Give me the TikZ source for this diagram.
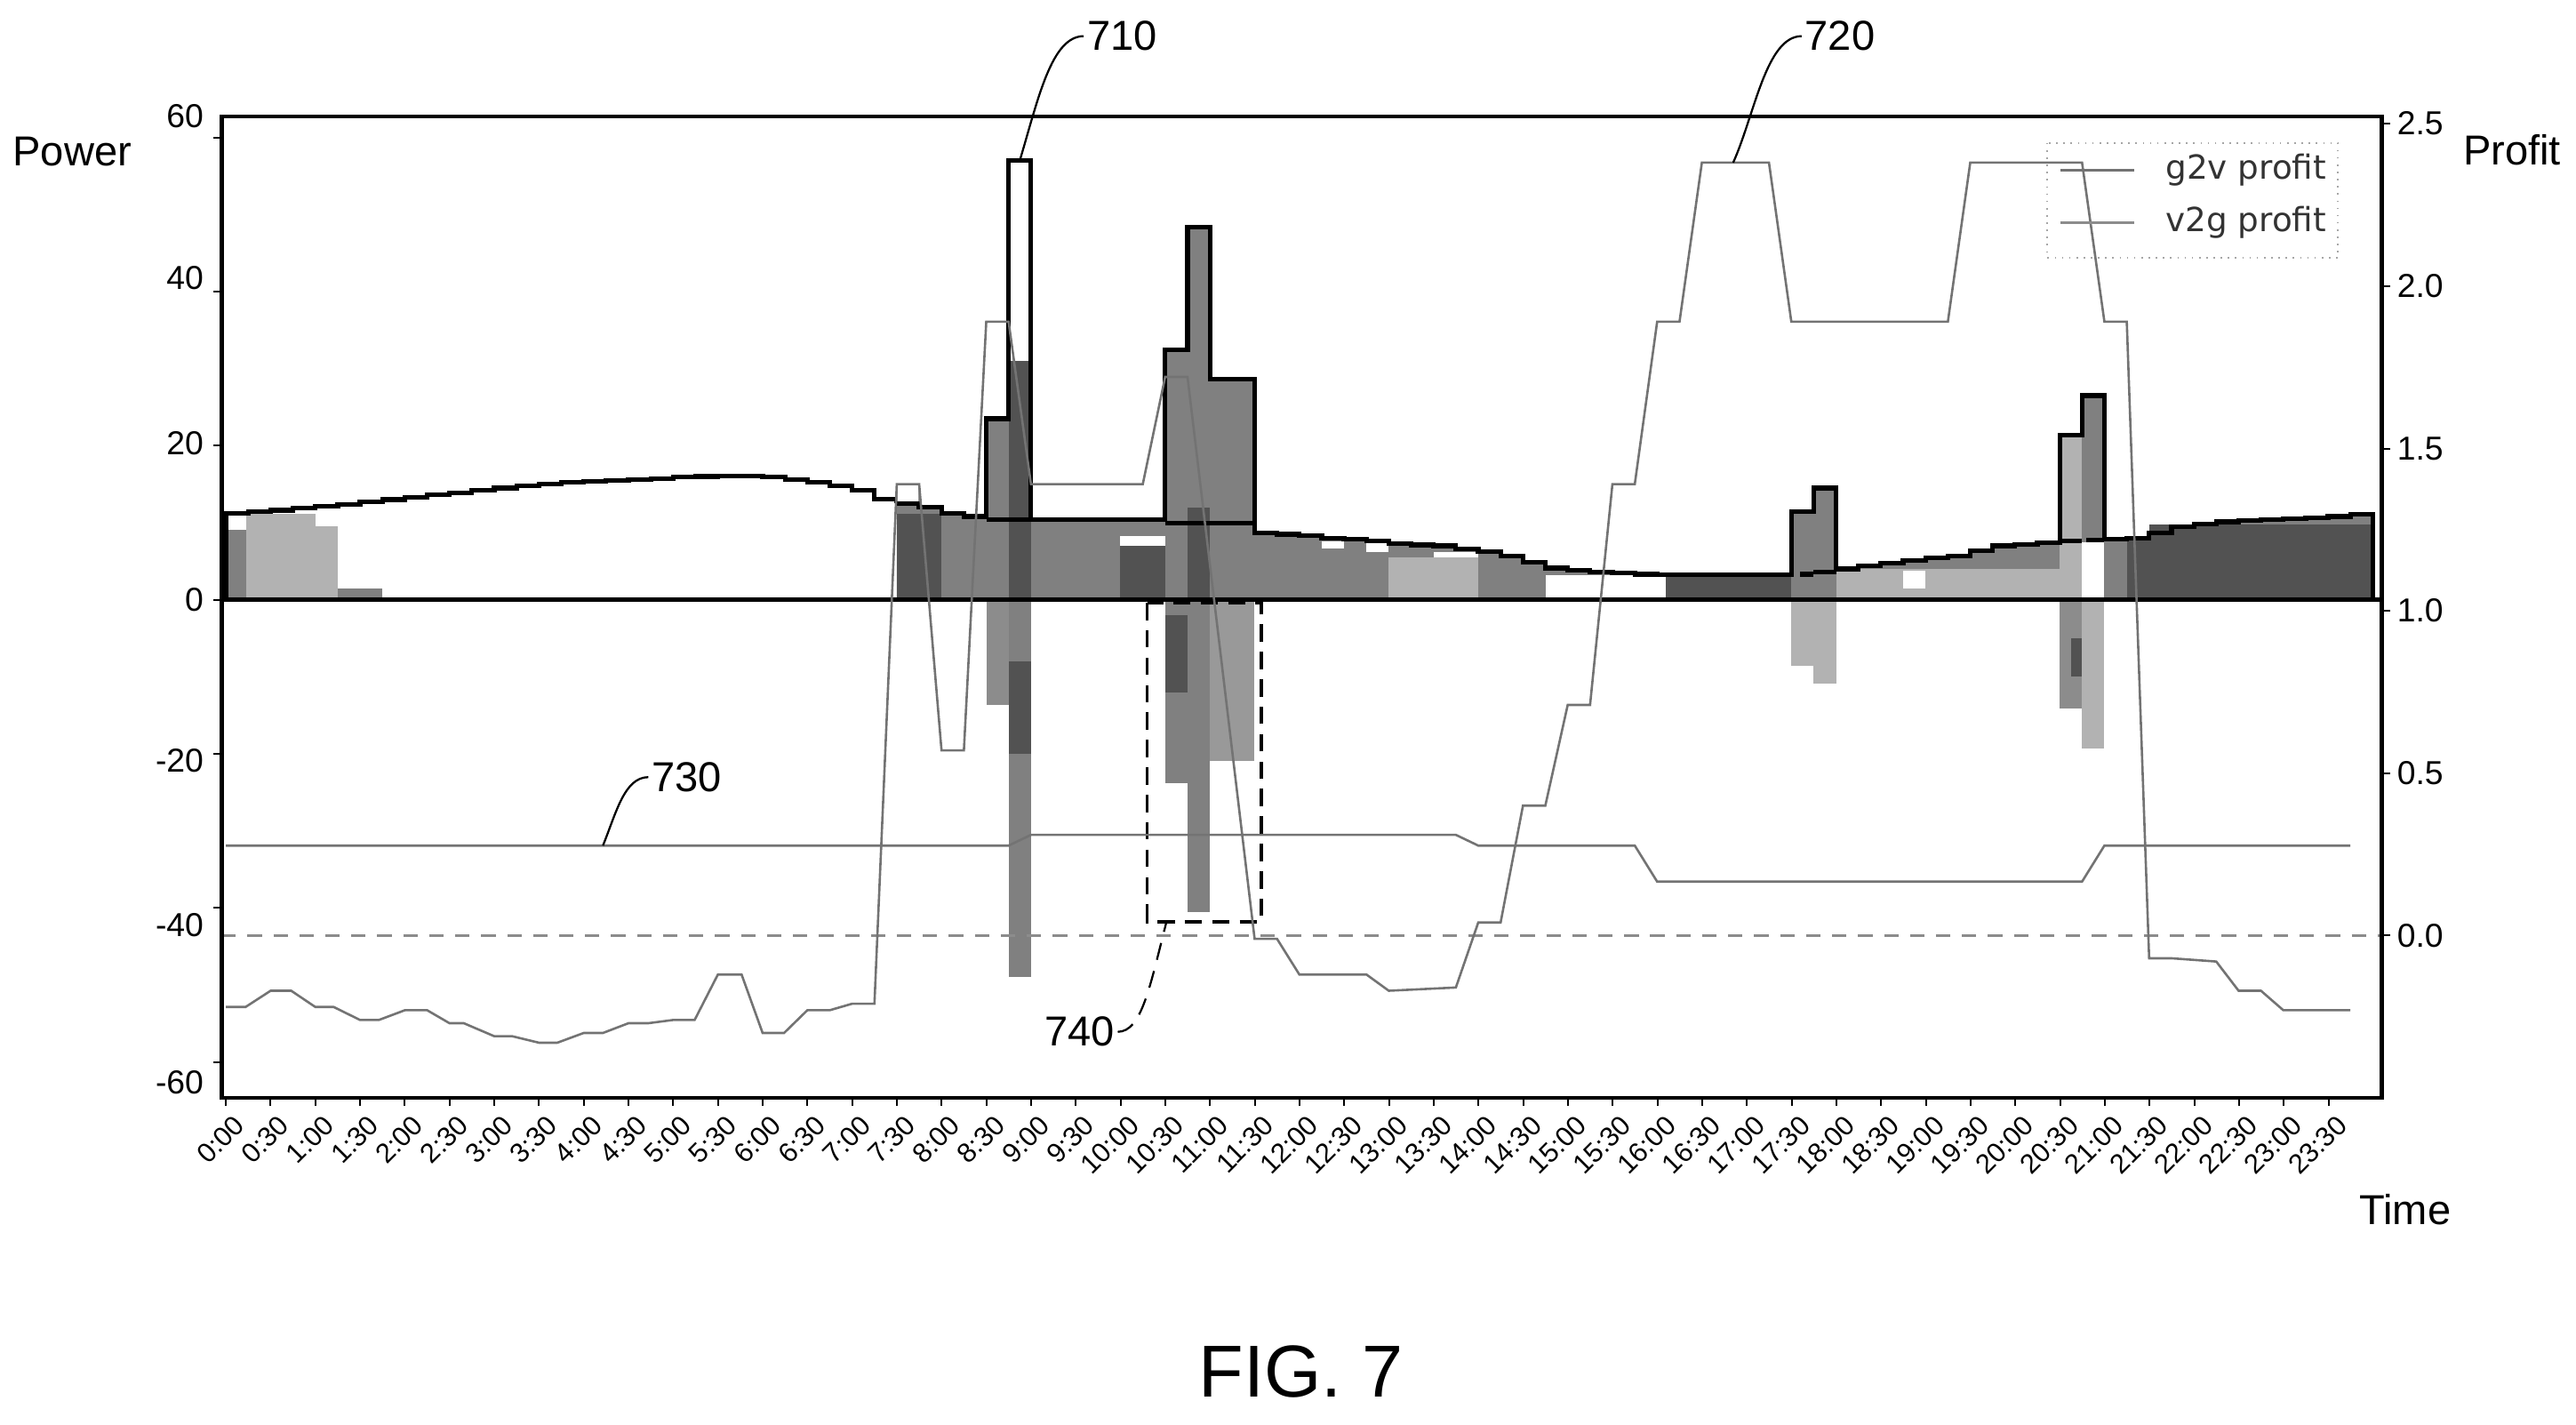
\documentclass[tikz,border=0pt]{standalone}
\usepackage{fontspec}
\setmainfont{Liberation Sans}
\newfontfamily\legendfont{DejaVu Sans}
\colorlet{barlight}{black!30}
\colorlet{barmid}{black!50}
\colorlet{bardark}{black!68}
\colorlet{profitgray}{black!55}

\tikzset{
  envelope/.style={draw=black, line width=1.6pt, line join=miter},
  profitline/.style={draw=profitgray, line width=0.8pt},
  zeroprofit/.style={draw=black!45, line width=0.8pt, dash pattern=on 5pt off 4pt},
  callout/.style={draw=black, line width=0.7pt},
  numlabel/.style={font=\fontsize{11.5}{13}\selectfont, inner sep=1pt},
  timelabel/.style={font=\fontsize{9.5}{11}\selectfont, rotate=45, anchor=north east, inner sep=1pt},
  reflabel/.style={font=\fontsize{14.5}{17}\selectfont, inner sep=1pt},
}

\begin{document}
\begin{tikzpicture}[x=0.02cm, y=-0.02cm]
\useasboundingbox (0,0) rectangle (1568,867);

% power bars, left axis
\begin{scope}[shift={(137.5,365)}, x=0.5446cm, y=0.0938cm]
  % early morning bars
  \fill[barmid] (0,0) rectangle (0.45,9.1);
  \fill[barlight] (0.45,0) rectangle (2,11.2);
  \fill[barlight] (2,0) rectangle (2.5,9.5);
  \fill[barmid] (2.5,0) rectangle (3.5,1.5);
  \draw[envelope] plot[const plot] coordinates {(0,0) (0,11.2) (0.5,11.4) (1,11.6) (1.5,11.9) (2,12.1) (2.5,12.4) (3,12.7) (3.5,13.0) (4,13.3) (4.5,13.6) (5,13.9) (5.5,14.2) (6,14.5) (6.5,14.8) (7,15.0) (7.5,15.2) (8,15.4) (8.5,15.5) (9,15.6) (9.5,15.7) (10,15.9) (10.5,16.0) (11,16.1) (11.5,16.1) (12,15.9) (12.5,15.6) (13,15.2) (13.5,14.8) (14,14.2) (14.5,13.1) (15,12.5)};

  % day bars
  \path[save path=\loadpath] plot[const plot] coordinates {(15,12.5) (15.5,12.0) (16,11.2) (16.5,10.8) (17,23.5) (17.5,57) (18,10.4) (21,32.4) (21.5,48.4) (22,28.6) (23,8.7) (23.5,8.5) (24,8.3) (24.5,8.0) (25,7.9) (25.5,7.6) (26,7.3) (26.5,7.1) (27,7.0) (27.5,6.6) (28,6.2) (28.5,5.7) (29,4.9) (29.5,4.1) (30,3.8) (30.5,3.6) (31,3.5) (31.5,3.3) (32,3.2) (35,11.4) (35.5,14.5) (36,4.0) (36.5,4.4) (37,4.7) (37.5,5.1) (38,5.4) (38.5,5.7) (39,6.4) (39.5,7.0) (40,7.2) (40.5,7.4) (41,21.4) (41.5,26.5) (42,7.9) (42.5,8.0) (43,8.7) (43.5,9.5) (44,9.8) (44.5,10.1) (45,10.3) (45.5,10.4) (46,10.5) (46.5,10.6) (47,10.8) (47.5,11.1) (48,11.1)} -- (48,0) -- (15,0);
  \fill[barmid, use path=\loadpath];
  \fill[bardark] (15,0) rectangle (16,11.2);
  \fill[bardark] (17.5,0) rectangle (18,31);
  \fill[white] (17.5,31) rectangle (18,57);
  \fill[bardark] (20,0) rectangle (21,7);
  \fill[white] (20,7) rectangle (21,8.3);
  \fill[bardark] (21.5,0) rectangle (22,12);
  \fill[white] (24.5,6.6) rectangle (25,7.6);
  \fill[white] (25.5,6.2) rectangle (26,7.3);
  \fill[barlight] (26,0) rectangle (28,5.5);
  \fill[white] (27,5.5) rectangle (28,6.2);
  \fill[white] (29.5,0) rectangle (32.2,3.2);
  \fill[bardark] (32.2,0) rectangle (35,3.2);
  \fill[barlight] (36,0) rectangle (41,4);
  \fill[white] (37.5,1.5) rectangle (38,3.8);
  \fill[barlight] (41,0) rectangle (41.5,21.4);
  \fill[white] (41.5,0) rectangle (42,7.5);
  \fill[bardark] (42.5,0) rectangle (43,8);
  \fill[bardark] (43,0) rectangle (48,9.8);
  \fill[white, draw=black!40] (15,12.5) rectangle (15.5,15);
  \draw[envelope, use path=\loadpath];
  \draw[envelope] (17,10.4) -- (18,10.4);
  \draw[envelope] (21,9.9) -- (23,9.9);
  \draw[envelope] (35.2,3.3) -- (35.5,3.3) (35.5,3.6) -- (36,3.6);
  \draw[envelope] (41,7.6) -- (41.5,7.6) (41.6,7.7) -- (42,7.7);
  \coordinate (c710) at (17.75,57);

  % grid to vehicle bars below zero
  \fill[black!45] (17,0) rectangle (17.5,-13.7);
  \fill[barmid] (17.5,0) rectangle (18,-49);
  \fill[bardark] (17.5,-8) rectangle (18,-20);
  \fill[barmid] (21,0) rectangle (21.5,-23.8);
  \fill[bardark] (21,-2) rectangle (21.5,-12);
  \fill[barmid] (21.5,0) rectangle (22,-40.5);
  \fill[black!40] (22,0) rectangle (23,-20.9);
  \fill[barlight] (35,0) rectangle (35.5,-8.6);
  \fill[barlight] (35.5,0) rectangle (36,-10.9);
  \fill[black!45] (41,0) rectangle (41.5,-14.1);
  \fill[barlight] (41.5,0) rectangle (42,-19.3);
  \fill[bardark] (41.25,-5) rectangle (41.5,-10);

  \draw[line width=1.4pt] (-0.1,0) -- (48.2,0);
  \draw[line width=1.1pt, dash pattern=on 6pt off 3.5pt] (20.6,-0.4) rectangle (23.15,-41.8);
  \coordinate (c740) at (21.03,-41.8);
\end{scope}

% profit lines, right axis
\begin{scope}[shift={(137.5,569.4)}, x=0.5446cm, y=3.954cm]
  \draw[zeroprofit] (-0.1,0) -- (48.2,0);
  \draw[profitline] (0,0.277) -- (17.5,0.277) -- (18,0.31) -- (27.5,0.31) -- (28,0.277) -- (31.5,0.277) -- (32,0.166) -- (41.5,0.166) -- (42,0.277) -- (47.5,0.277);
  \draw[profitline] (0,-0.22) -- (0.44,-0.22) -- (1,-0.17) -- (1.46,-0.17) -- (2,-0.22) -- (2.41,-0.22) -- (3,-0.26) -- (3.42,-0.26) -- (4,-0.23) -- (4.5,-0.23) -- (5,-0.27) -- (5.32,-0.27) -- (6,-0.31) -- (6.4,-0.31) -- (7,-0.33) -- (7.41,-0.33) -- (8,-0.30) -- (8.43,-0.30) -- (9,-0.27) -- (9.44,-0.27) -- (10,-0.26) -- (10.48,-0.26) -- (11,-0.12) -- (11.53,-0.12) -- (12,-0.30) -- (12.48,-0.30) -- (13,-0.23) -- (13.5,-0.23) -- (14,-0.21) -- (14.5,-0.21) -- (15,1.39) -- (15.5,1.39) -- (16,0.57) -- (16.5,0.57) -- (17,1.89) -- (17.5,1.89) -- (18,1.39) -- (20.5,1.39) -- (21,1.72) -- (21.5,1.72) -- (23,-0.01) -- (23.5,-0.01) -- (24,-0.12) -- (25.5,-0.12) -- (26,-0.17) -- (27.5,-0.16) -- (28,0.04) -- (28.5,0.04) -- (29,0.40) -- (29.5,0.40) -- (30,0.71) -- (30.5,0.71) -- (31,1.39) -- (31.5,1.39) -- (32,1.89) -- (32.5,1.89) -- (33,2.38) -- (34.5,2.38) -- (35,1.89) -- (38.5,1.89) -- (39,2.38) -- (41.5,2.38) -- (42,1.89) -- (42.5,1.89) -- (43,-0.07) -- (43.5,-0.07) -- (44.5,-0.08) -- (45,-0.17) -- (45.5,-0.17) -- (46,-0.23) -- (47.5,-0.23);
  \coordinate (c720) at (33.7,2.38);
  \coordinate (c730) at (8.43,0.277);
\end{scope}

% frame and ticks
\draw[line width=1.3pt] (135,70.8) rectangle (1449.8,668);
\foreach \v/\y in {60/83.6,40/177.4,20/271.2,0/365,-20/458.8,-40/552.6,-60/646.4}
  \draw[line width=0.6pt] (130,\y) -- (135,\y);
\foreach \v/\y/\ly in {60/83.6/70.8,40/177.4/169,20/271.2/270,0/365/365,-20/458.8/463,-40/552.6/563,-60/646.4/659}
  \node[numlabel, anchor=east] (p\v) at (126,\ly) {\v};
\foreach \v/\y in {2.5/75.2,2.0/174,1.5/273,1.0/371.7,0.5/470.5,0.0/569.4}{
  \draw[line width=0.6pt] (1449.8,\y) -- (1455,\y);
  \node[numlabel, anchor=west] (r\v) at (1457,\y) {\v};
}
\foreach \i in {0,...,47}{
  \pgfmathtruncatemacro{\h}{floor(\i/2)}
  \pgfmathtruncatemacro{\odd}{mod(\i,2)}
  \ifnum\odd=1 \def\mm{30}\else\def\mm{00}\fi
  \draw[line width=0.6pt] ({137.5+27.23*\i},668) -- ({137.5+27.23*\i},673);
  \node[timelabel] (t\i) at ({137.5+27.23*\i+4},675) {\h:\mm};
}

% axis titles
\node[reflabel] (power) at (44,92) {Power};
\node[reflabel] (profit) at (1529,91) {Profit};
\node[reflabel] (time) at (1464,736) {Time};
\node[font=\fontsize{25.5}{30}\selectfont] (fig) at (792,835) {FIG. 7};

% legend
\draw[black!35, line width=0.5pt, dotted] (1246,87) rectangle (1423,157);
\draw[profitline] (1254,103.7) -- (1299,103.7);
\draw[profitline, black!45] (1254,135.5) -- (1299,135.5);
\node[font=\legendfont\fontsize{11.5}{13}\selectfont, anchor=west, text=black!80] (g2v) at (1312,103.7) {g2v profit};
\node[font=\legendfont\fontsize{11.5}{13}\selectfont, anchor=west, text=black!80] (v2g) at (1312,135.5) {v2g profit};

% reference numerals
\node[reflabel] (n710) at (683,22) {710};
\node[reflabel] (n720) at (1120,22) {720};
\node[reflabel] (n730) at (418,473) {730};
\node[reflabel] (n740) at (657,628) {740};
\draw[callout] (n710.west) .. controls (640,22) and (632,60) .. (c710);
\draw[callout] (n720.west) .. controls (1075,22) and (1068,70) .. (c720);
\draw[callout] (n730.west) .. controls (380,473) and (375,495) .. (c730);
\draw[callout, dash pattern=on 6pt off 4pt] (n740.east) .. controls (695,628) and (700,600) .. (c740);
\end{tikzpicture}
\end{document}
